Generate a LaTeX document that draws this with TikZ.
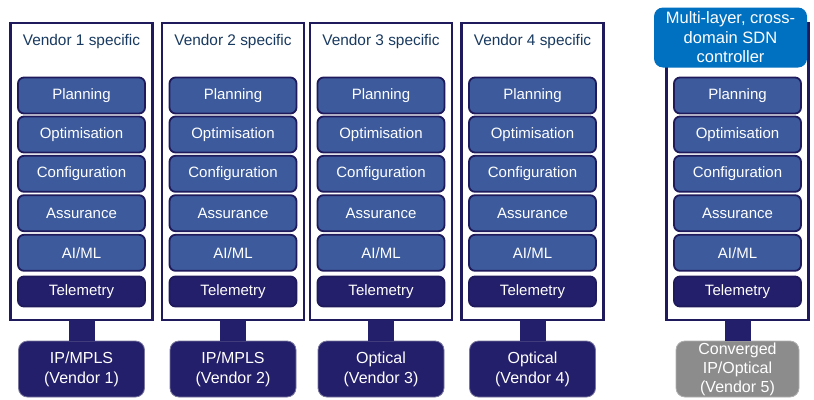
\documentclass[tikz,border=0pt]{standalone}
\usepackage{fontspec}
\setmainfont{Liberation Sans}
\usepackage{tikz}
\usetikzlibrary{positioning}
\definecolor{navyline}{RGB}{30,26,92}
\definecolor{navyfill}{RGB}{36,31,106}
\definecolor{toolblue}{RGB}{61,91,156}
\definecolor{titleblue}{RGB}{25,58,96}
\definecolor{sdnblue}{RGB}{0,112,192}
\definecolor{convgray}{RGB}{140,140,140}
\tikzset{
	column/.style={draw=navyline, line width=2.4pt, fill=white, inner sep=0pt,
		outer sep=0pt, minimum width=142pt, minimum height=297pt}
}
\tikzset{
	coltitle/.style={font=\fontsize{15.4}{18}\selectfont, text=titleblue}
}
\tikzset{
	tool/.style={draw=navyline, line width=1.8pt, fill=toolblue, rounded corners=6pt,
		minimum width=127pt, minimum height=36pt, inner sep=0pt, text=white,
		font=\fontsize{15}{18}\selectfont},
	telem/.style={tool, fill=navyfill, minimum height=30pt},
	device/.style={draw=navyline!60!white, line width=0.8pt, fill=navyfill, rounded corners=9pt,
		minimum width=126pt, minimum height=56pt, inner sep=0pt, outer sep=0pt, text=white,
		align=center, font=\fontsize{16}{20}\selectfont},
	link/.style={draw=navyfill, line width=26pt}
}
\tikzset{
  vendorstack/.pic={
    \node[column] (-box) at (0,171.5) {};
    \node[coltitle] (-title) at (0,42) {#1};
    \node[tool] (-plan) at (0,95.5) {Planning};
    \node[tool] (-opt) at (0,134.5) {Optimisation};
    \node[tool] (-conf) at (0,173.8) {Configuration};
    \node[tool] (-assur) at (0,213.2) {Assurance};
    \node[tool] (-aiml) at (0,252.8) {AI/ML};
    \node[telem] (-telem) at (0,291.5) {Telemetry};
  }
}

\begin{document}
\begin{tikzpicture}[x=1pt, y=-1pt]
      \useasboundingbox (0,0) rectangle (814,399);
      \pic (v1) at (81.5,0) {vendorstack={Vendor 1 specific}};
      \pic (v2) at (233,0) {vendorstack={Vendor 2 specific}};
      \pic (v3) at (381,0) {vendorstack={Vendor 3 specific}};
      \pic (v4) at (532.5,0) {vendorstack={Vendor 4 specific}};
      \pic (v5) at (737.5,0) {vendorstack={}};
      % controller badge sits over the top edge of the last column
      \node[device, draw=none, fill=sdnblue, minimum width=153pt, minimum height=60pt,
        font=\fontsize{16.5}{19.5}\selectfont] (sdn) at (730.5,37.5)
        {Multi-layer, cross-\\domain SDN\\controller};
      \node[device, below=21pt of v1-box] (d1) {IP/MPLS\\(Vendor 1)};
      \node[device, below=21pt of v2-box] (d2) {IP/MPLS\\(Vendor 2)};
      \node[device, below=21pt of v3-box] (d3) {Optical\\(Vendor 3)};
      \node[device, below=21pt of v4-box] (d4) {Optical\\(Vendor 4)};
      \node[device, below=21pt of v5-box, fill=convgray, draw=convgray!70!white,
        minimum width=123pt, font=\fontsize{16}{19}\selectfont] (d5)
        {Converged\\IP/Optical\\(Vendor 5)};
      \draw[link] (v1-box.south) -- (d1.north);
      \draw[link] (v2-box.south) -- (d2.north);
      \draw[link] (v3-box.south) -- (d3.north);
      \draw[link] (v4-box.south) -- (d4.north);
      \draw[link] (v5-box.south) -- (d5.north);
\end{tikzpicture}
\end{document}
